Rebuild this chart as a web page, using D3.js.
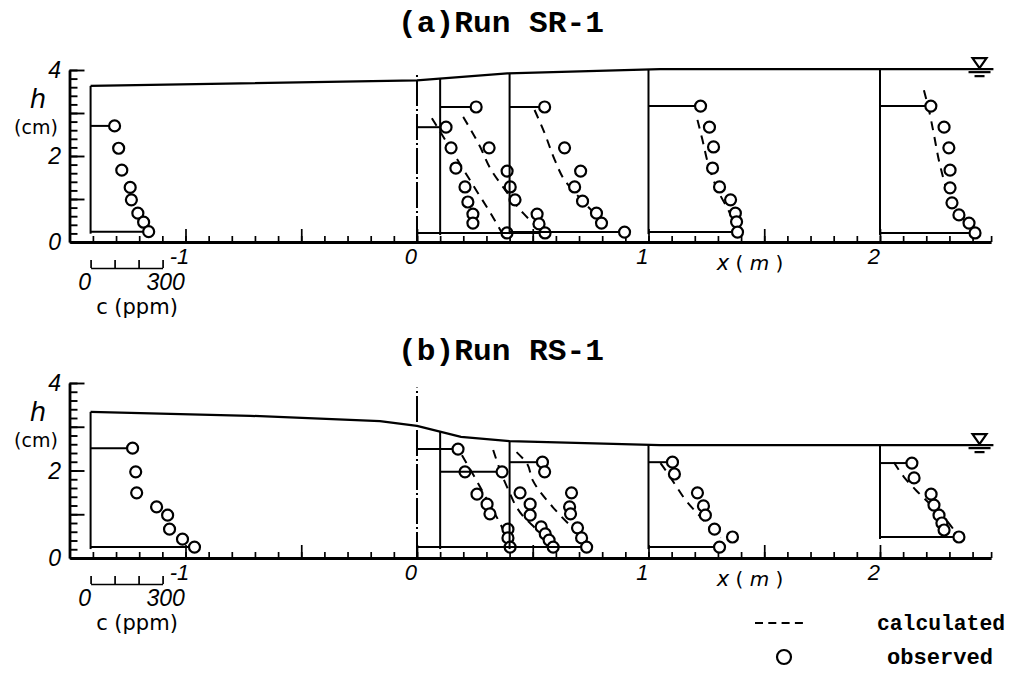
<!DOCTYPE html>
<html>
<head>
<meta charset="utf-8">
<script src="https://cdn.jsdelivr.net/npm/d3@7"></script>
<style>
  body { margin: 0; background: #fff; }
  svg { display: block; }
</style>
</head>
<body>
<script>
// stations (x in m) where concentration profiles were measured
var stations = [-1.41, 0, 0.1, 0.4, 1, 2];

// water surface, run SR-1 / run RS-1
var surfXA = [-1.41, 0, 0.39, 1.05, 2.49];
var surfHA = [3.63, 3.76, 3.92, 4.02, 4.02];
var surfXB = [-1.41, -0.72, -0.16, 0, 0.19, 0.4, 1.05, 2.49];
var surfHB = [3.34, 3.25, 3.13, 3.02, 2.77, 2.67, 2.58, 2.58];

// observed c (ppm) and h (cm), run SR-1, one list per station
var obsCA = [[100,117,130,165,170,197,221,242],
             [121,142,162,200,212,233,233,375],
             [150,204,279,292,312,404,412,437],
             [146,229,296,271,304,362,383,479],
             [217,254,271,267,296,342,362,367,371],
             [212,267,287,292,292,300,329,371,396]];
var obsHA = [[2.70,2.18,1.67,1.27,0.98,0.67,0.46,0.24],
             [2.67,2.19,1.72,1.28,0.93,0.65,0.44,0.21],
             [3.14,2.19,1.65,1.28,0.98,0.65,0.42,0.21],
             [3.14,2.19,1.65,1.28,0.95,0.67,0.44,0.23],
             [3.16,2.67,2.21,1.72,1.28,0.98,0.67,0.47,0.23],
             [3.16,2.67,2.19,1.67,1.26,0.91,0.63,0.44,0.21]];
// calculated profiles, run SR-1
var calcCA = [[],
              [62,118,182,246,311,354],
              [96,167,208,271,346,417],
              [104,146,188,229,300,354,425],
              [204,225,250,288,333,383],
              [183,204,225,250,288,333,396]];
var calcHA = [[],
              [2.88,2.37,1.79,1.21,0.63,0.21],
              [2.91,2.21,1.72,1.21,0.67,0.28],
              [3.07,2.53,1.91,1.44,0.98,0.67,0.33],
              [2.84,2.37,1.79,1.21,0.74,0.21],
              [3.53,3.07,2.49,1.79,1.09,0.63,0.21]];

// observed, run RS-1
var obsCB = [[175,188,192,275,321,329,383,433],
             [171,200,250,292,304,379,379,388],
             [258,333,375,375,421,438,454,471],
             [137,146,258,250,254,283,300,321],
             [100,108,204,229,237,275,350,296],
             [133,142,213,225,246,258,267,329]];
var obsHB = [[2.51,1.97,1.49,1.17,0.98,0.66,0.43,0.25],
             [2.49,1.97,1.46,1.23,1.01,0.66,0.46,0.25],
             [1.97,1.49,1.23,0.98,0.71,0.55,0.41,0.25],
             [2.19,1.97,1.49,1.17,1.01,0.69,0.46,0.25],
             [2.19,1.92,1.49,1.19,0.98,0.66,0.48,0.25],
             [2.17,1.83,1.46,1.21,0.98,0.80,0.64,0.48]];
// calculated, run RS-1
var calcCB = [[],
              [187,240,300,350,396],
              [221,279,342,404,471],
              [29,71,96,179,217,292,346],
              [50,71,112,154,217,300],
              [58,100,150,213,275,329]];
var calcHB = [[],
              [2.35,1.85,1.25,0.75,0.18],
              [2.47,1.62,0.98,0.64,0.25],
              [2.42,2.17,1.78,1.17,0.94,0.53,0.18],
              [2.17,2.01,1.67,1.33,0.94,0.46],
              [2.19,1.85,1.55,1.21,0.87,0.48]];

var xTickValues = [-1, 0, 1, 2];
var xTickLabels = ['-1', '0', '1', '2'];
var hTickValues = [0, 2, 4];
var cTickValues = [0, 100, 200, 300];

var W = 1009, H = 686;
var svg = d3.select('body').append('svg').attr('width', W).attr('height', H)
  .style('font-family', '"DejaVu Sans", sans-serif');

var x = d3.scaleLinear().domain([-1.5, 2.48]).range([69.75, 991.1]);
var c = d3.scaleLinear().domain([0, 300]).range([0, 72]); // ppm -> px offset
var R = 5.5;

function drawPanel(p) {
  var y = d3.scaleLinear().domain([0, 4]).range([p.y0, p.y4]);
  var surf = d3.scaleLinear().domain(p.surfX).range(p.surfH);
  var g = svg.append('g');

  g.append('text').attr('x', 501).attr('y', p.titleY)
    .attr('text-anchor', 'middle')
    .attr('textLength', 206).attr('lengthAdjust', 'spacingAndGlyphs')
    .style('font-family', '"Liberation Mono", monospace')
    .style('font-size', '30px').style('font-weight', 'bold')
    .text(p.title);

  // x axis, ticks pointing up
  var minor = d3.range(-14, 25).map(function (d) { return d / 10; }).concat([2.48]);
  var major = d3.range(-2, 5).map(function (d) { return d / 2; });
  var xa = g.append('g').attr('transform', 'translate(0,' + p.y0 + ')');
  xa.call(d3.axisBottom(x).tickValues(minor).tickSize(-6).tickSizeOuter(0).tickFormat(''));
  xa.append('g').call(d3.axisBottom(x).tickValues(major).tickSize(-13).tickSizeOuter(0).tickFormat(''))
    .select('.domain').remove();
  xa.selectAll('.domain').attr('stroke-width', 2.8);
  xa.selectAll('.tick line').attr('stroke-width', 1.7);

  g.selectAll('.xl').data(xTickValues).enter().append('text')
    .attr('x', function (d) { return x(d) - 6; })
    .attr('y', p.y0 + 22)
    .attr('text-anchor', 'middle')
    .style('font-family', '"Liberation Sans", sans-serif')
    .style('font-style', 'italic').style('font-size', '22px')
    .text(function (d, i) { return xTickLabels[i]; });
  g.append('text').attr('x', 750).attr('y', p.y0 + 28).attr('text-anchor', 'middle')
    .style('font-size', '20px')
    .html('<tspan font-style="italic" font-size="21px">x</tspan> ( <tspan font-style="italic">m</tspan> )');

  // h axis, ticks pointing right
  var ya = g.append('g').attr('transform', 'translate(69.5,0)');
  ya.call(d3.axisLeft(y).tickValues(d3.range(0, 21).map(function (d) { return d / 5; }))
    .tickSize(-8).tickSizeOuter(0).tickFormat(''));
  ya.append('g').call(d3.axisLeft(y).tickValues([1, 2, 3, 4]).tickSize(-15).tickSizeOuter(0).tickFormat(''))
    .select('.domain').remove();
  ya.selectAll('.domain').attr('stroke-width', 2.8);
  ya.selectAll('.tick line').attr('stroke-width', 1.9);
  g.selectAll('.yl').data(hTickValues).enter().append('text')
    .attr('x', 61).attr('y', function (d) { return y(d) + 8; })
    .attr('text-anchor', 'end')
    .style('font-family', '"Liberation Sans", sans-serif')
    .style('font-style', 'italic').style('font-size', '23px')
    .text(function (d) { return d; });
  g.append('text').attr('x', 38).attr('y', p.y4 + 38).attr('text-anchor', 'middle')
    .style('font-style', 'italic').style('font-size', '26px').text('h');
  g.append('text').attr('x', 36).attr('y', p.y4 + 64).attr('text-anchor', 'middle')
    .style('font-size', '19px').text('(cm)');

  // concentration scale bar
  var cb = g.append('g').attr('transform', 'translate(' + x(stations[0]) + ',' + (p.y0 + 26) + ')');
  cb.call(d3.axisTop(c).tickValues(cTickValues).tickSize(8).tickSizeOuter(0).tickFormat(''));
  cb.selectAll('path,line').attr('stroke-width', 1.7);
  g.append('text').attr('x', x(stations[0]) - 6).attr('y', p.y0 + 48).attr('text-anchor', 'middle')
    .style('font-family', '"Liberation Sans", sans-serif')
    .style('font-style', 'italic').style('font-size', '23px').text('0');
  g.append('text').attr('x', x(stations[0]) + c(300) + 3).attr('y', p.y0 + 48).attr('text-anchor', 'middle')
    .style('font-family', '"Liberation Sans", sans-serif')
    .style('font-style', 'italic').style('font-size', '23px').text('300');
  g.append('text').attr('x', 137).attr('y', p.y0 + 72).attr('text-anchor', 'middle')
    .style('font-size', '21px').text('c (ppm)');

  // water surface
  g.append('path')
    .attr('d', d3.line().x(function (d) { return x(d); }).y(function (d, i) { return y(p.surfH[i]); })(p.surfX))
    .attr('fill', 'none').attr('stroke', '#000').attr('stroke-width', 2.2);

  // surface marker
  var sx = x(2.43), sy = y(p.surfH[p.surfH.length - 1]);
  g.append('path').attr('d', 'M' + (sx - 7) + ',' + (sy - 11) + 'L' + (sx + 7) + ',' + (sy - 11) + 'L' + sx + ',' + (sy - 1) + 'Z')
    .attr('fill', 'none').attr('stroke', '#000').attr('stroke-width', 2.2);
  g.append('line').attr('x1', sx - 11).attr('x2', sx + 11).attr('y1', sy + 3).attr('y2', sy + 3)
    .attr('stroke', '#000').attr('stroke-width', 2.2);
  g.append('line').attr('x1', sx - 5).attr('x2', sx + 5).attr('y1', sy + 7).attr('y2', sy + 7)
    .attr('stroke', '#000').attr('stroke-width', 2.2);

  // x = 0 chain line
  g.append('line').attr('x1', x(0)).attr('x2', x(0)).attr('y1', y(0)).attr('y2', y(p.zeroTop))
    .attr('stroke', '#000').attr('stroke-width', 2).attr('stroke-dasharray', '26,3,2,3');

  stations.forEach(function (st, i) {
    var bx = x(st);
    var oc = p.obsC[i], oh = p.obsH[i];
    var n = oc.length - 1;
    if (i !== 1) {
      g.append('line').attr('x1', bx).attr('x2', bx)
        .attr('y1', y(oh[n]) + 2).attr('y2', y(surf(st)))
        .attr('stroke', '#000').attr('stroke-width', 2);
    }
    g.append('line').attr('x1', bx).attr('x2', bx + c(oc[0]) - R)
      .attr('y1', y(oh[0])).attr('y2', y(oh[0]))
      .attr('stroke', '#000').attr('stroke-width', 2);
    g.append('line').attr('x1', bx).attr('x2', bx + c(oc[n]) - R)
      .attr('y1', y(oh[n])).attr('y2', y(oh[n]))
      .attr('stroke', '#000').attr('stroke-width', 2);

    if (p.calcC[i].length) {
      g.append('path')
        .attr('d', d3.line().curve(d3.curveMonotoneY)
          .x(function (d) { return bx + c(d); })
          .y(function (d, k) { return y(p.calcH[i][k]); })(p.calcC[i]))
        .attr('fill', 'none').attr('stroke', '#000').attr('stroke-width', 2)
        .attr('stroke-dasharray', '9,7');
    }

    g.selectAll(null).data(oc).enter().append('circle')
      .attr('cx', function (d) { return bx + c(d); })
      .attr('cy', function (d, k) { return y(oh[k]); })
      .attr('r', R).attr('fill', '#fff').attr('stroke', '#000').attr('stroke-width', 2.2);
  });
}

drawPanel({ title: '(a)Run SR-1', titleY: 32, y0: 242, y4: 70, zeroTop: 3.95,
  surfX: surfXA, surfH: surfHA, obsC: obsCA, obsH: obsHA, calcC: calcCA, calcH: calcHA });
drawPanel({ title: '(b)Run RS-1', titleY: 360, y0: 558, y4: 383, zeroTop: 3.9,
  surfX: surfXB, surfH: surfHB, obsC: obsCB, obsH: obsHB, calcC: calcCB, calcH: calcHB });

// legend
svg.append('line').attr('x1', 755).attr('x2', 803).attr('y1', 623).attr('y2', 623)
  .attr('stroke', '#000').attr('stroke-width', 2).attr('stroke-dasharray', '8,5.3');
svg.append('text').attr('x', 877).attr('y', 630).attr('textLength', 128).attr('lengthAdjust', 'spacingAndGlyphs')
  .style('font-family', '"Liberation Mono", monospace').style('font-weight', 'bold').style('font-size', '22px')
  .text('calculated');
svg.append('circle').attr('cx', 784).attr('cy', 657).attr('r', 7)
  .attr('fill', '#fff').attr('stroke', '#000').attr('stroke-width', 2.2);
svg.append('text').attr('x', 887).attr('y', 664).attr('textLength', 106).attr('lengthAdjust', 'spacingAndGlyphs')
  .style('font-family', '"Liberation Mono", monospace').style('font-weight', 'bold').style('font-size', '22px')
  .text('observed');
</script>
</body>
</html>
